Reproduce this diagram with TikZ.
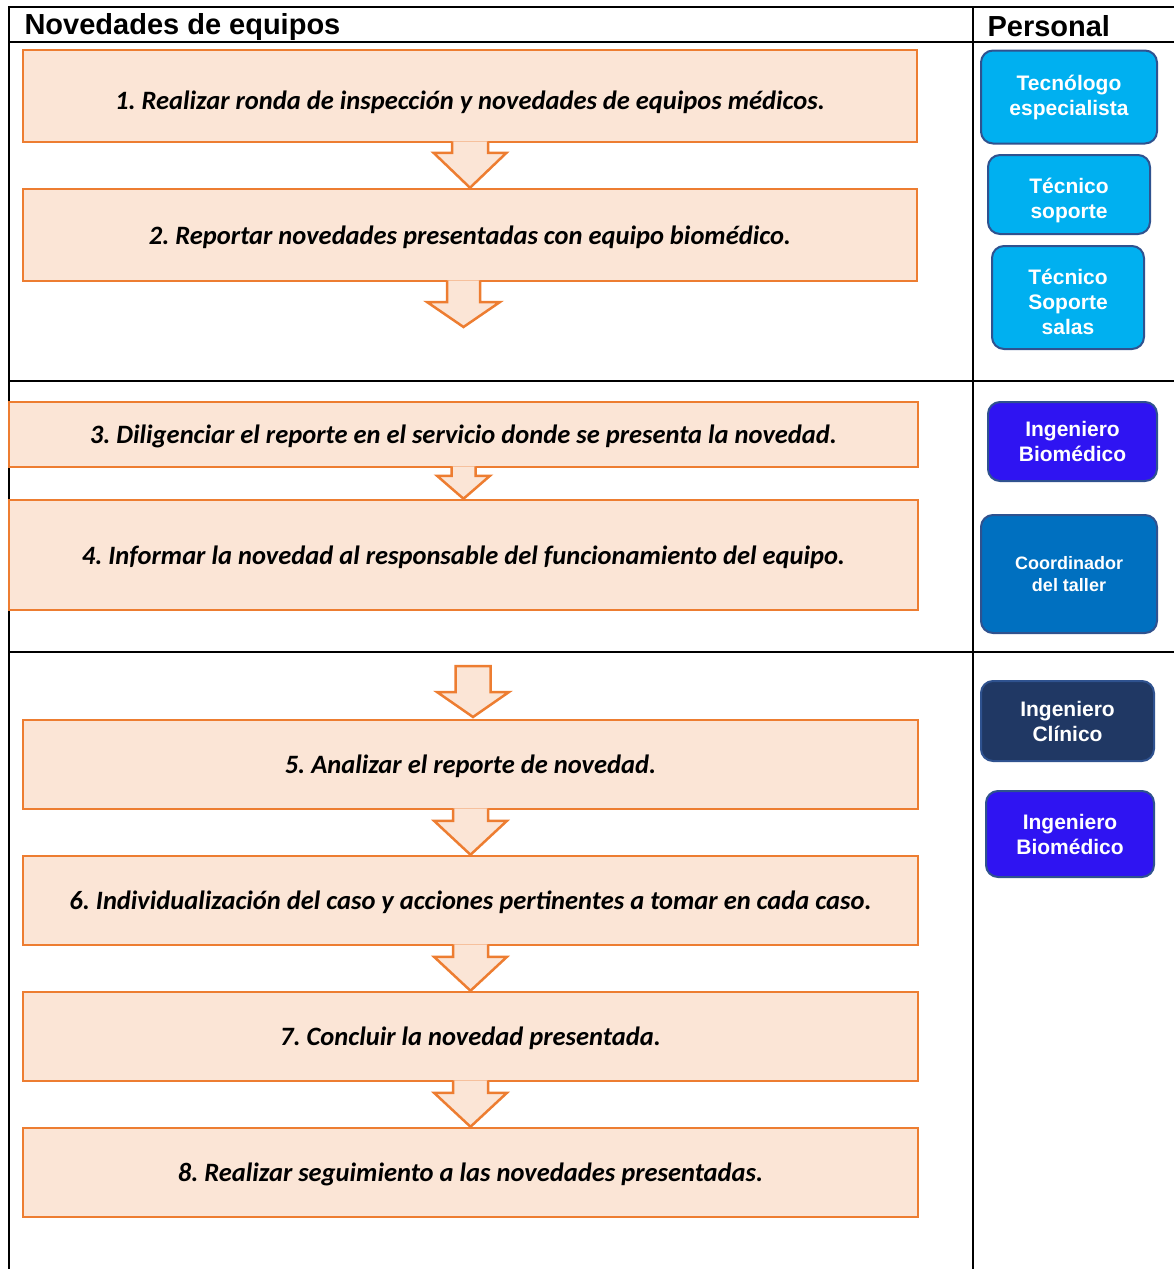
\documentclass[tikz,border=0pt]{standalone}
\usepackage{fontspec}
\setmainfont{Liberation Sans}
\newfontfamily\stepfont{Carlito}
\usetikzlibrary{calc}
\frenchspacing

\definecolor{stepfill}{HTML}{FBE5D6}
\definecolor{stepline}{HTML}{ED7D31}
\definecolor{roleline}{HTML}{2F528F}
\definecolor{cyanrole}{HTML}{00B0F0}
\definecolor{violetrole}{HTML}{2F14F2}
\definecolor{bluerole}{HTML}{0070C0}
\definecolor{navyrole}{HTML}{203864}

% block arrow: top, tip, head length, shaft half width, head half width
\newcommand{\blockarrow}[5]{%
  \filldraw[flow] ($(#1)+(-#4,-2)$) -- ($(#2)+(-#4,-#3)$) -- ($(#2)+(-#5,-#3)$)
    -- (#2) -- ($(#2)+(#5,-#3)$) -- ($(#2)+(#4,-#3)$) -- ($(#1)+(#4,-2)$);
}

\begin{document}
\begin{tikzpicture}[
  x=1pt,y=-1pt,
  grid/.style={line width=2pt,black},
  stepbox/.style={draw=stepline,fill=stepfill,line width=2.5pt,
                  minimum width=#1,inner sep=0pt,text height=20pt,text depth=1.5pt,
                  font=\stepfont\bfseries\itshape\fontsize{26.5}{30}\selectfont},
  stepbox/.default=894pt,
  flow/.style={draw=stepline,fill=stepfill,line width=2.5pt,line join=miter},
  role/.style={draw=roleline,fill=#1,line width=2pt,rounded corners=12pt,
               text=white,align=center,inner sep=0pt,
               font=\bfseries\fontsize{21}{25}\selectfont},
  head/.style={anchor=west,font=\bfseries\fontsize{29}{32}\selectfont}
]
\useasboundingbox (0,0) rectangle (1174,1269);

% table
\draw[grid] (9,1269) -- (9,7) -- (1174,7);
\draw[grid] (9,42) -- (1174,42);
\draw[grid] (973,7) -- (973,1269);
\draw[grid] (9,381) -- (1174,381);
\draw[grid] (9,652) -- (1174,652);
\node[head] (hnov) at (21,27) {Novedades de equipos};
\node[head] (hper) at (984,26) {Personal};

% steps
\node[stepbox,minimum height=92pt,text height=26pt,text depth=0pt] (s1) at (470,96)
  {1. Realizar ronda de inspección y novedades de equipos médicos.};
\node[stepbox,minimum height=92pt] (s2) at (470,235)
  {2. Reportar novedades presentadas con equipo biomédico.};
\node[stepbox=909pt,minimum height=65pt] (s3) at (463.5,434.5)
  {3. Diligenciar el reporte en el servicio donde se presenta la novedad.};
\node[stepbox=909pt,minimum height=110pt] (s4) at (463.5,555)
  {4. Informar la novedad al responsable del funcionamiento del equipo.};
\node[stepbox=895pt,minimum height=89pt] (s5) at (470.5,764.5)
  {5. Analizar el reporte de novedad.};
\node[stepbox=895pt,minimum height=89pt] (s6) at (470.5,900.5)
  {6. Individualización del caso y acciones pertinentes a tomar en cada caso.};
\node[stepbox=895pt,minimum height=89pt] (s7) at (470.5,1036.5)
  {7. Concluir la novedad presentada.};
\node[stepbox=895pt,minimum height=89pt] (s8) at (470.5,1172.5)
  {8. Realizar seguimiento a las novedades presentadas.};

% arrows
\coordinate (end2) at (463.5,327);
\coordinate (out2) at (s2.south -| end2);
\coordinate (in5) at (473,717);
\blockarrow{s1.south}{s2.north}{35}{18}{36.5}
\blockarrow{out2}{end2}{25}{16.5}{36.5}
\blockarrow{s3.south}{s4.north}{23}{12}{26.5}
\filldraw[flow] (455.5,666) -- (455.5,692) -- (437,692) -- (in5)
  -- (509,692) -- (490.5,692) -- (490.5,666) -- cycle;
\blockarrow{s5.south}{s6.north}{34}{17.5}{36.5}
\blockarrow{s6.south}{s7.north}{34}{17.5}{36.5}
\blockarrow{s7.south}{s8.north}{34}{17.5}{36.5}

% personal
\node[role=cyanrole,minimum width=176pt,minimum height=93pt] (r1) at (1069,97)
  {Tecnólogo\\especialista};
\node[role=cyanrole,minimum width=162pt,minimum height=79pt] (r2) at (1069,194.5)
  {\rule{0pt}{27pt}Técnico\\soporte};
\node[role=cyanrole,minimum width=152pt,minimum height=103pt] (r3) at (1068,297.5)
  {\rule{0pt}{25pt}Técnico\\Soporte\\salas};
\node[role=violetrole,minimum width=169pt,minimum height=79pt] (r4) at (1072.5,441.5)
  {Ingeniero\\Biomédico};
\node[role=bluerole,minimum width=176pt,minimum height=118pt,
      font=\bfseries\fontsize{18}{22}\selectfont] (r5) at (1069,574)
  {Coordinador\\del taller};
\node[role=navyrole,minimum width=173pt,minimum height=80pt] (r6) at (1067.5,721)
  {Ingeniero\\Clínico};
\node[role=violetrole,minimum width=168pt,minimum height=86pt] (r7) at (1070,834)
  {Ingeniero\\Biomédico};
\end{tikzpicture}
\end{document}
